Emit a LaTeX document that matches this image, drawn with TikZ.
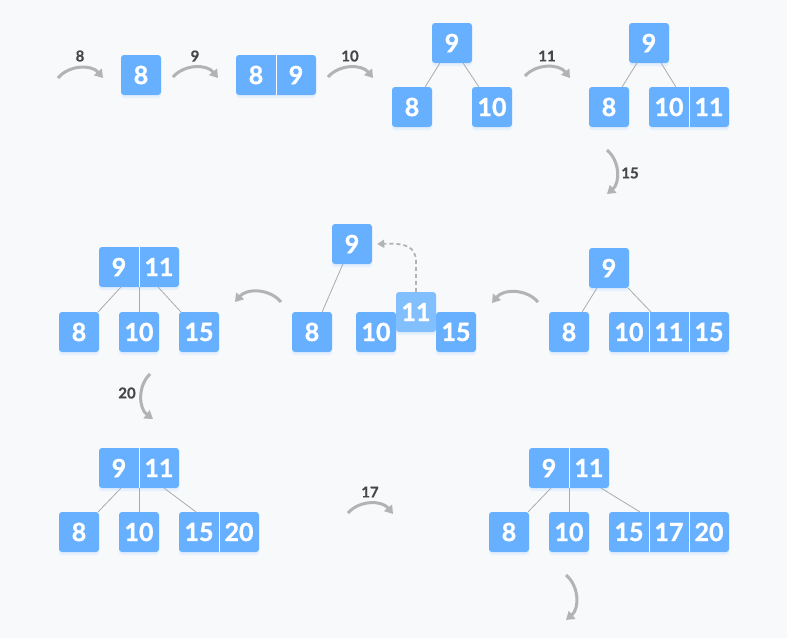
\documentclass[tikz,border=0pt]{standalone}
\usepackage{fontspec}
\setmainfont{Lato}[AutoFakeBold=2]
\newfontfamily\keyfont{Lato}[FakeBold=1.2]
\newfontfamily\labfont{Lato}[FakeBold=0.6]
\usetikzlibrary{arrows.meta,shadows}
\definecolor{keyblue}{HTML}{66B0FF}
\definecolor{keylight}{HTML}{82BFFF}
\definecolor{bgcol}{HTML}{F8F9FB}
\definecolor{arrowgray}{HTML}{B3B3B3}
\definecolor{linegray}{HTML}{ABABAB}
\definecolor{labelgray}{HTML}{474747}
\tikzset{
  keybox/.style={rectangle, rounded corners=3pt, fill=keyblue, minimum width=40pt, minimum height=40pt, inner sep=0pt,
    drop shadow={shadow xshift=0pt, shadow yshift=-3pt, fill=keyblue!50!white, opacity=0.25}},
  keytxt/.style={text=white, font=\keyfont\bfseries\fontsize{25}{25}\selectfont, inner sep=0pt},
  divider/.style={draw=white, line width=1pt},
  treeline/.style={draw=linegray, line width=0.8pt},
  flow/.style={draw=arrowgray, line width=3pt, -{Triangle[length=8pt,width=10pt]}},
  steplabel/.style={text=labelgray, font=\labfont\bfseries\fontsize{15}{15}\selectfont, inner sep=0pt},
  promote/.style={draw=arrowgray, line width=1.8pt, dash pattern=on 4pt off 3pt, -{Triangle[length=7pt,width=8pt]}},
}
\begin{document}
\begin{tikzpicture}[x=1pt,y=-1pt]
\fill[bgcol] (0,0) rectangle (787,638);
\useasboundingbox (0,0) rectangle (787,638);

% ---------- Row 1 ----------
\coordinate (s8a) at (58,78); \coordinate (s8b) at (103,78);
\draw[flow] (s8a) to[bend left=50] (s8b);
\node[steplabel] (l8) at (80,56) {8};

\node[keybox, keytxt] (n1) at (141,75) {8};

\coordinate (s9a) at (173,77); \coordinate (s9b) at (218,78);
\draw[flow] (s9a) to[bend left=50] (s9b);
\node[steplabel] (l9) at (195,56) {9};

\node[keybox, minimum width=80pt] (n2) at (276,75) {};
\node[keytxt] (n2a) at (256,75) {8};
\node[keytxt] (n2b) at (296,75) {9};
\draw[divider] (n2.north) -- (n2.south);

\coordinate (s10a) at (328,77); \coordinate (s10b) at (373,78);
\draw[flow] (s10a) to[bend left=50] (s10b);
\node[steplabel] (l10) at (350,56) {10};

\node[keybox, keytxt] (t1r) at (452,43) {9};
\node[keybox, keytxt] (t1a) at (412,107) {8};
\node[keybox, keytxt] (t1b) at (492,107) {10};
\draw[treeline] ([xshift=8pt]t1r.south west) -- ([xshift=-7pt]t1a.north east);
\draw[treeline] ([xshift=-9pt]t1r.south east) -- ([xshift=7pt]t1b.north west);

\coordinate (s11a) at (525,76); \coordinate (s11b) at (570,78);
\draw[flow] (s11a) to[bend left=50] (s11b);
\node[steplabel] (l11) at (547,56) {11};

\node[keybox, keytxt] (t2r) at (649,43) {9};
\node[keybox, keytxt] (t2a) at (609,107) {8};
\node[keybox, minimum width=80pt] (t2b) at (689,107) {};
\node[keytxt] (t2b1) at (669,107) {10};
\node[keytxt] (t2b2) at (709,107) {11};
\draw[divider] (t2b.north) -- (t2b.south);
\draw[treeline] ([xshift=8pt]t2r.south west) -- ([xshift=-7pt]t2a.north east);
\draw[treeline] ([xshift=-8pt]t2r.south east) -- ([xshift=27pt]t2b.north west);

\coordinate (s15a) at (607,150); \coordinate (s15b) at (607,194);
\draw[flow] (s15a) to[bend left=50] (s15b);
\node[steplabel] (l15) at (630,173) {15};

% ---------- Row 2 ----------
\node[keybox, keytxt] (t3r) at (609,268) {9};
\node[keybox, keytxt] (t3a) at (569,332) {8};
\node[keybox, minimum width=120pt] (t3b) at (669,332) {};
\node[keytxt] (t3b1) at (629,332) {10};
\node[keytxt] (t3b2) at (669,332) {11};
\node[keytxt] (t3b3) at (709,332) {15};
\draw[divider] ([xshift=-20pt]t3b.north) -- ([xshift=-20pt]t3b.south);
\draw[divider] ([xshift=20pt]t3b.north) -- ([xshift=20pt]t3b.south);
\draw[treeline] ([xshift=8pt]t3r.south west) -- ([xshift=-7pt]t3a.north east);
\draw[treeline] ([xshift=-1pt]t3r.south east) -- ([xshift=42pt]t3b.north west);

\coordinate (r2aa) at (538,302); \coordinate (r2ab) at (492,303);
\draw[flow] (r2aa) to[bend right=50] (r2ab);

\node[keybox, keytxt] (m9) at (352,244) {9};
\node[keybox, keytxt] (m8) at (312,332) {8};
\node[keybox, keytxt] (m10) at (376,332) {10};
\node[keybox, keytxt] (m15) at (456,332) {15};
\node[keybox, keytxt, fill=keylight] (m11) at (416,312) {11};
\draw[treeline] ([xshift=11pt]m9.south west) -- ([xshift=-10pt]m8.north east);
\coordinate (mbend) at (416,262);
\coordinate (mc1) at (416,246);
\coordinate (mc2) at (405,243);
\draw[promote] (m11.north) -- (mbend) .. controls (mc1) and (mc2) .. ([xshift=5pt]m9.east);

\coordinate (r2ba) at (281,302); \coordinate (r2bb) at (235,302);
\draw[flow] (r2ba) to[bend right=50] (r2bb);

\node[keybox, minimum width=80pt] (l9r) at (139,267) {};
\node[keytxt] (l9r1) at (119,267) {9};
\node[keytxt] (l9r2) at (159,267) {11};
\draw[divider] (l9r.north) -- (l9r.south);
\node[keybox, keytxt] (l8c) at (79,332) {8};
\node[keybox, keytxt] (l10c) at (139,332) {10};
\node[keybox, keytxt] (l15c) at (199,332) {15};
\draw[treeline] ([xshift=22pt]l9r.south west) -- ([xshift=-1pt]l8c.north east);
\draw[treeline] (l9r.south) -- (l10c.north);
\draw[treeline] ([xshift=-21pt]l9r.south east) -- ([xshift=2pt]l15c.north west);

\coordinate (s20a) at (150,374); \coordinate (s20b) at (153,419);
\draw[flow] (s20a) to[bend right=50] (s20b);
\node[steplabel] (l20) at (127,393) {20};

% ---------- Row 3 ----------
\node[keybox, minimum width=80pt] (b9) at (139,468) {};
\node[keytxt] (b9a) at (119,468) {9};
\node[keytxt] (b9b) at (159,468) {11};
\draw[divider] (b9.north) -- (b9.south);
\node[keybox, keytxt] (b8) at (79,532) {8};
\node[keybox, keytxt] (b10) at (139,532) {10};
\node[keybox, minimum width=80pt] (b15) at (219,532) {};
\node[keytxt] (b15a) at (199,532) {15};
\node[keytxt] (b15b) at (239,532) {20};
\draw[divider] (b15.north) -- (b15.south);
\draw[treeline] ([xshift=22pt]b9.south west) -- ([xshift=-1pt]b8.north east);
\draw[treeline] (b9.south) -- (b10.north);
\draw[treeline] ([xshift=-15pt]b9.south east) -- ([xshift=17pt]b15.north west);

\coordinate (s17a) at (348,513); \coordinate (s17b) at (393,514);
\draw[flow] (s17a) to[bend left=50] (s17b);
\node[steplabel] (l17) at (370,492) {17};

\node[keybox, minimum width=80pt] (c9) at (569,468) {};
\node[keytxt] (c9a) at (549,468) {9};
\node[keytxt] (c9b) at (589,468) {11};
\draw[divider] (c9.north) -- (c9.south);
\node[keybox, keytxt] (c8) at (509,532) {8};
\node[keybox, keytxt] (c10) at (569,532) {10};
\node[keybox, minimum width=120pt] (c15) at (669,532) {};
\node[keytxt] (c15a) at (629,532) {15};
\node[keytxt] (c15b) at (669,532) {17};
\node[keytxt] (c15c) at (709,532) {20};
\draw[divider] ([xshift=-20pt]c15.north) -- ([xshift=-20pt]c15.south);
\draw[divider] ([xshift=20pt]c15.north) -- ([xshift=20pt]c15.south);
\draw[treeline] ([xshift=22pt]c9.south west) -- ([xshift=-1pt]c8.north east);
\draw[treeline] (c9.south) -- (c10.north);
\draw[treeline] ([xshift=-8pt]c9.south east) -- ([xshift=31pt]c15.north west);

\coordinate (sda) at (566,575); \coordinate (sdb) at (566,620);
\draw[flow] (sda) to[bend left=50] (sdb);
\end{tikzpicture}
\end{document}
